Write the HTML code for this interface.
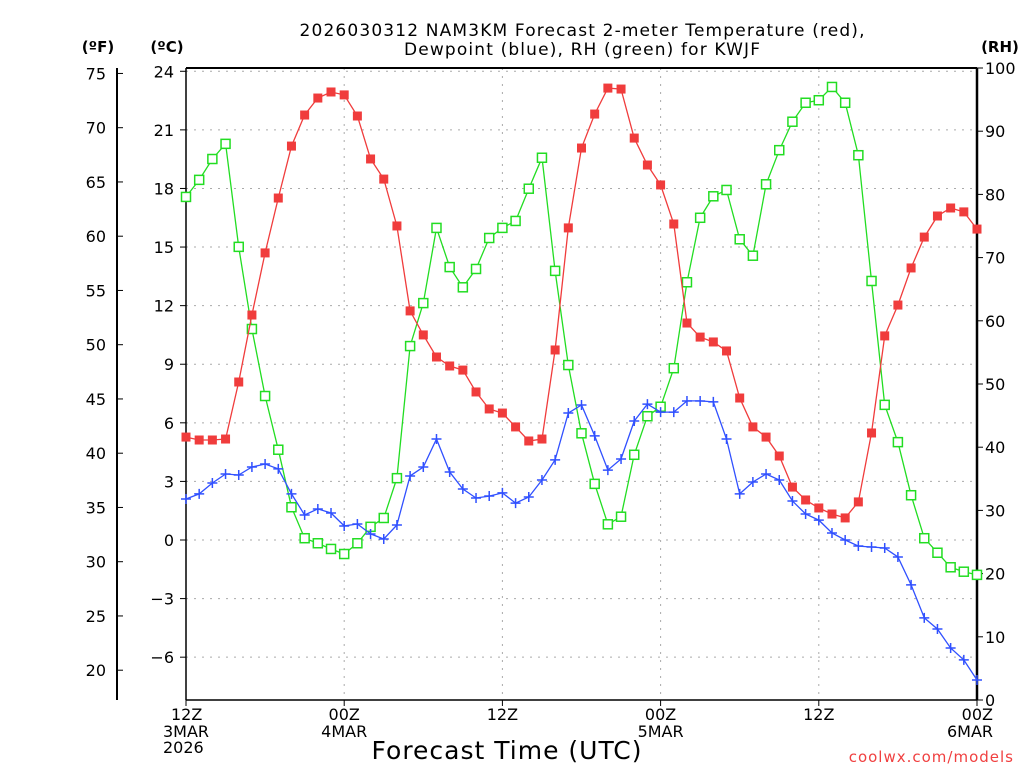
<!DOCTYPE html>
<html><head><meta charset="utf-8"><style>
body{margin:0;background:#fff;width:1024px;height:768px;overflow:hidden}
svg{display:block;font-family:"DejaVu Sans","Liberation Sans",sans-serif}
</style></head><body>
<svg id="chart" width="1024" height="768"></svg>
<script>
const hours=[...Array(61).keys()];
const tempC=[5.27,5.12,5.12,5.17,8.09,11.52,14.70,17.51,20.17,21.76,22.63,22.94,22.79,21.71,19.51,18.48,16.08,11.73,10.50,9.37,8.91,8.70,7.58,6.71,6.50,5.79,5.07,5.17,9.73,15.98,20.07,21.81,23.14,23.09,20.58,19.20,18.18,16.18,11.11,10.39,10.14,9.68,7.27,5.79,5.27,4.30,2.71,2.05,1.64,1.33,1.13,1.95,5.48,10.45,12.03,13.93,15.51,16.59,17.00,16.80,15.92];
const dewC=[2.10,2.36,2.92,3.38,3.33,3.74,3.89,3.64,2.36,1.28,1.59,1.38,0.72,0.82,0.31,0.05,0.77,3.28,3.74,5.17,3.48,2.61,2.15,2.25,2.41,1.89,2.20,3.07,4.10,6.50,6.91,5.33,3.58,4.15,6.09,6.96,6.55,6.55,7.12,7.12,7.07,5.17,2.36,2.97,3.38,3.07,2.00,1.33,1.02,0.36,0,-0.31,-0.36,-0.41,-0.87,-2.30,-3.99,-4.56,-5.53,-6.14,-7.17];
const rh=[79.6,82.3,85.6,88.0,71.7,58.7,48.1,39.6,30.5,25.6,24.8,23.9,23.1,24.8,27.4,28.8,35.1,56.0,62.8,74.7,68.5,65.3,68.2,73.1,74.7,75.8,80.9,85.8,67.9,53.0,42.2,34.2,27.8,29.0,38.8,44.9,46.4,52.5,66.1,76.3,79.7,80.7,72.9,70.3,81.6,87.0,91.5,94.5,94.9,97.0,94.5,86.2,66.3,46.7,40.8,32.4,25.6,23.3,21.0,20.3,19.8];
const cTicks=[24,21,18,15,12,9,6,3,0,-3,-6];
const cLabels=["24","21","18","15","12","9","6","3","0","\u22123","\u22126"];
const fTicks=[75,70,65,60,55,50,45,40,35,30,25,20];
const rhTicks=[100,90,80,70,60,50,40,30,20,10,0];
const xTickHours=[0,12,24,36,48,60];
const xTickL1=["12Z","00Z","12Z","00Z","12Z","00Z"];
const xTickL2=["3MAR","4MAR","","5MAR","","6MAR"];
const xTickL3=["2026","","","","",""];

const X0=186,X1=977,Y0=68,Y1=700;
const xs=h=>X0+(X1-X0)*h/60;
const yC=c=>540-c*19.53;
const yF=f=>yC((f-32)*5/9);
const yR=r=>Y1-(Y1-Y0)*r/100;
const svg=document.getElementById('chart');
const NS='http://www.w3.org/2000/svg';
function mk(tag,at,name,txt){const e=document.createElementNS(NS,tag);for(const k in at)e.setAttribute(k,at[k]);


if(txt!==undefined)e.textContent=txt;svg.appendChild(e);return e;}

cTicks.forEach((c,i)=>{mk('line',{x1:X0,x2:X1,y1:yC(c),y2:yC(c),stroke:'#aaa','stroke-dasharray':'2,6'},'grid-h');
mk('line',{x1:X0-6,x2:X0,y1:yC(c),y2:yC(c),stroke:'#000'},'c-tick');
mk('text',{x:X0-12,y:yC(c)+6,'text-anchor':'end','font-size':'16'},'c-tick-label',cLabels[i]);});
xTickHours.slice(1,5).forEach(h=>mk('line',{x1:xs(h),x2:xs(h),y1:Y0,y2:Y1,stroke:'#aaa','stroke-dasharray':'2,6'},'grid-v'));
mk('line',{x1:117,x2:117,y1:Y0,y2:Y1,stroke:'#000','stroke-width':2},'f-axis');
fTicks.forEach(f=>{mk('line',{x1:117,x2:123,y1:yF(f),y2:yF(f),stroke:'#000'},'f-tick');
mk('text',{x:106,y:yF(f)+6,'text-anchor':'end','font-size':'16'},'f-tick-label',String(f));});
rhTicks.forEach(r=>{mk('line',{x1:X1,x2:X1+6,y1:yR(r),y2:yR(r),stroke:'#000'},'rh-tick');
mk('text',{x:X1+8,y:yR(r)+6,'font-size':'16'},'rh-tick-label',String(r));});
mk('line',{x1:X0,x2:X1,y1:Y0,y2:Y0,stroke:'#000','stroke-width':2},'frame-top');
mk('line',{x1:X0,x2:X0,y1:Y0,y2:Y1,stroke:'#000','stroke-width':1.5},'c-axis');
mk('line',{x1:X1,x2:X1,y1:Y0,y2:Y1,stroke:'#000','stroke-width':2.5},'rh-axis');
mk('line',{x1:X0,x2:X1,y1:Y1,y2:Y1,stroke:'#000','stroke-width':1.5},'x-axis');
xTickHours.forEach((h,i)=>{mk('line',{x1:xs(h),x2:xs(h),y1:Y1,y2:Y1+6,stroke:'#000'},'x-tick');
const a=i==0?'start':(i==5?'end':'middle');const x=i==5?993:xs(h);
mk('text',{x:i==0?171:x,y:720,'text-anchor':a,'font-size':'16'},'x-tick-label',xTickL1[i]);
if(xTickL2[i])mk('text',{x:i==0?163:x,y:737,'text-anchor':a,'font-size':'16'},'x-date-label',xTickL2[i]);
if(xTickL3[i])mk('text',{x:163,y:753,'font-size':'16'},'x-year-label',xTickL3[i]);});

function series(vals,yf,color,name,marker){
const pts=vals.map((v,i)=>xs(hours[i]).toFixed(1)+','+yf(v).toFixed(1)).join(' ');
mk('polyline',{points:pts,fill:'none',stroke:color,'stroke-width':1.3},name+'-line');
vals.forEach((v,i)=>{const x=xs(hours[i]),y=yf(v);
if(marker=='fill')mk('rect',{x:x-4.5,y:y-4.5,width:9,height:9,fill:color},name+'-point');
else if(marker=='open')mk('rect',{x:x-4.5,y:y-4.5,width:9,height:9,fill:'#fff',stroke:color,'stroke-width':1.5},name+'-point');
else mk('path',{d:`M${x-5} ${y}H${x+5}M${x} ${y-5}V${y+5}`,stroke:color,'stroke-width':1.5},name+'-point');});}
series(rh,yR,'#22dd22','rh','open');
series(tempC,yC,'#f03c3c','temp','fill');
series(dewC,yC,'#3050ff','dewpoint','plus');

mk('text',{x:582,y:36,'text-anchor':'middle','font-size':'17','textLength':'565'},'chart-title-line1','2026030312 NAM3KM Forecast 2-meter Temperature (red),');
mk('text',{x:582,y:55,'text-anchor':'middle','font-size':'17','textLength':'356'},'chart-title-line2','Dewpoint (blue), RH (green) for KWJF');
mk('text',{x:98,y:52,'text-anchor':'middle','font-size':'15','font-weight':'bold'},'f-axis-unit','(ºF)');
mk('text',{x:167,y:52,'text-anchor':'middle','font-size':'15','font-weight':'bold'},'c-axis-unit','(ºC)');
mk('text',{x:1000,y:52,'text-anchor':'middle','font-size':'15','font-weight':'bold'},'rh-axis-unit','(RH)');
mk('text',{x:507,y:759,'text-anchor':'middle','font-size':'25','letter-spacing':'1'},'x-axis-title','Forecast Time (UTC)');
mk('text',{x:1014,y:762,'text-anchor':'end','font-size':'15',fill:'#f04040','letter-spacing':'1'},'credit','coolwx.com/models');
</script>
</body></html>
